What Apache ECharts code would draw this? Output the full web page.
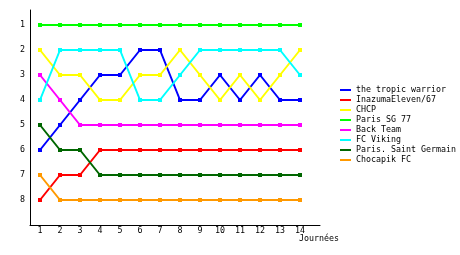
<!DOCTYPE html>
<html><head><meta charset="utf-8">
<script src="https://cdn.jsdelivr.net/npm/echarts@6/dist/echarts.min.js"></script>
<style>html,body{margin:0;padding:0;background:#fff}#c{width:460px;height:255px}</style>
</head><body><div id="c"></div>
<script>
const days = [1,2,3,4,5,6,7,8,9,10,11,12,13,14];
const rankTicks = [1,2,3,4,5,6,7,8];
const teamNames = ['the tropic warrior','InazumaEleven/67','CHCP','Paris SG 77','Back Team','FC Viking','Paris. Saint Germain','Chocapik FC'];
const teamColors = ['#0000ff','#ff0000','#ffff00','#00ff00','#ff00ff','#00ffff','#006600','#ff9900'];
const tropicWarrior = [6,5,4,3,3,2,2,4,4,3,4,3,4,4];
const inazuma = [8,7,7,6,6,6,6,6,6,6,6,6,6,6];
const chcp = [2,3,3,4,4,3,3,2,3,4,3,4,3,2];
const parisSG77 = [1,1,1,1,1,1,1,1,1,1,1,1,1,1];
const backTeam = [3,4,5,5,5,5,5,5,5,5,5,5,5,5];
const fcViking = [4,2,2,2,2,4,4,3,2,2,2,2,2,3];
const parisSaintGermain = [5,6,6,7,7,7,7,7,7,7,7,7,7,7];
const chocapik = [7,8,8,8,8,8,8,8,8,8,8,8,8,8];
const seriesValues = [tropicWarrior,inazuma,chcp,parisSG77,backTeam,fcViking,parisSaintGermain,chocapik];

const font = 'DejaVu Sans Mono';
const chart = echarts.init(document.getElementById('c'), null, {renderer:'canvas'});
chart.setOption({
  animation:false,
  backgroundColor:'#fff',
  grid:{left:30,right:140,top:10,bottom:30,containLabel:false},
  legend:{
    orient:'vertical', left:335, top:76, itemGap:-8,
    itemWidth:11, itemHeight:2, icon:'rect',
    textStyle:{fontFamily:font,fontSize:8.3,color:'#000',lineHeight:10,padding:[8,0,0,0]},
    data:teamNames
  },
  xAxis:{
    type:'value', min:0.5, max:15,
    axisLine:{lineStyle:{color:'#000',width:1}},
    axisTick:{show:false}, splitLine:{show:false},
    axisLabel:{customValues:days,fontFamily:font,fontSize:8.3,color:'#000',margin:2},
    name:'Journées', nameLocation:'end', nameGap:-21,
    nameTextStyle:{fontFamily:font,fontSize:8.3,color:'#000',align:'left',verticalAlign:'top',padding:[10,0,0,0]}
  },
  yAxis:{
    type:'value', min:0.4, max:9, inverse:true,
    axisLine:{show:true,lineStyle:{color:'#000',width:1}},
    axisTick:{show:false}, splitLine:{show:false},
    axisLabel:{customValues:rankTicks,fontFamily:font,fontSize:8.3,color:'#000',margin:5}
  },
  series: teamNames.map((n,i)=>({
    name:n, type:'line', color:teamColors[i],
    data: days.map((d,j)=>[d, seriesValues[i][j]]),
    symbol:'rect', symbolSize:4,
    lineStyle:{width:2,color:teamColors[i]},
    itemStyle:{color:teamColors[i]}
  }))
});
</script></body></html>
